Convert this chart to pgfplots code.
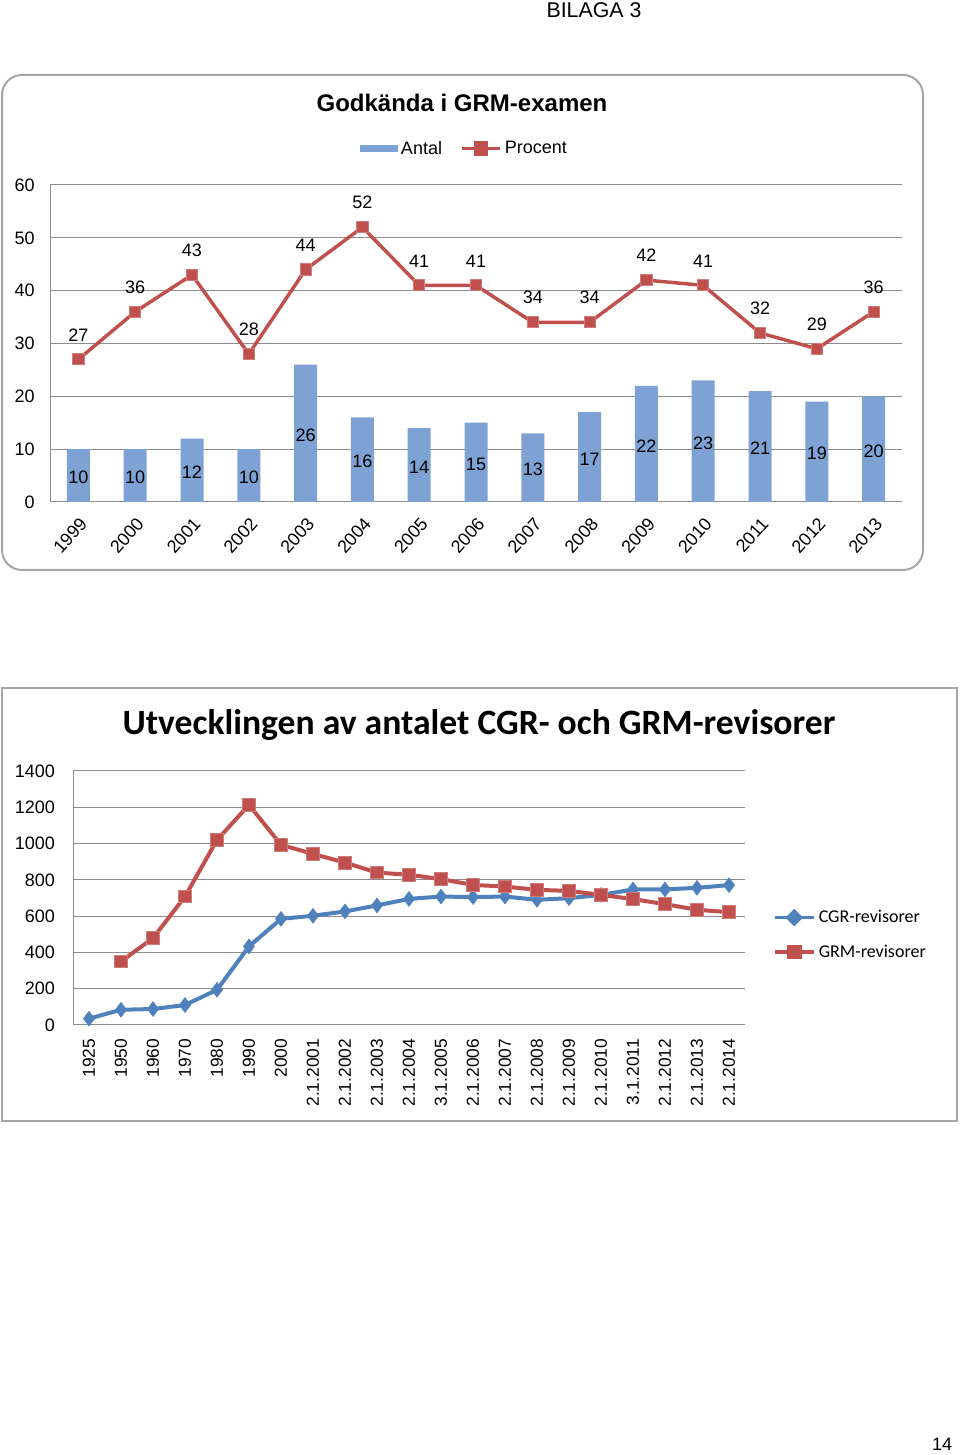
\documentclass[border=0pt]{standalone}
\usepackage{pgfplots}
\pgfplotsset{compat=1.18}
\usepackage{fontspec}
\setmainfont{Liberation Sans}
\newfontfamily\calibri{Carlito}
\definecolor{barblue}{HTML}{7EA2D3}
\definecolor{xlred}{HTML}{C0504D}
\definecolor{xlblue}{HTML}{4F81BD}
\definecolor{gridgray}{HTML}{8C8C8C}
\definecolor{framegray}{HTML}{A6A6A6}
\begin{document}
\begin{tikzpicture}[x=0.75pt,y=0.75pt]
\path[use as bounding box, fill=white] (0,0) rectangle (960,1455);
\node[font=\fontsize{16}{19}\selectfont] at (594,1445) {BILAGA 3};
\node[font=\fontsize{13.5}{16}\selectfont] at (942,11) {14};
\draw[framegray, line width=1.5pt, rounded corners=15pt] (2,1380) rectangle (923,885);
\node[font=\bfseries\fontsize{18}{21}\selectfont] at (462,1352) {Godkända i GRM-examen};

\begin{axis}[
  at={(37.5pt,714.75pt)}, anchor=south west,
  scale only axis, width=639pt, height=237.75pt,
  xmin=-0.5, xmax=14.5, ymin=0, ymax=60,
  axis lines*=left, axis line style={-, draw=gridgray, line width=0.75pt},
  ytick={0,10,...,60}, ymajorgrids, grid style={gridgray, line width=0.75pt},
  xtick={0,...,14},
  xticklabels={1999,2000,2001,2002,2003,2004,2005,2006,2007,2008,2009,2010,2011,2012,2013},
  major tick length=0pt, tick style={draw=none},
  x tick label style={rotate=48, anchor=north east, font=\fontsize{13.5}{16}\selectfont},
  xticklabel shift=6pt,
  y tick label style={font=\fontsize{13.5}{16}\selectfont},
  yticklabel shift=8pt,
  /pgf/number format/assume math mode=true,
  legend columns=2,
  legend style={at={(0.487,1.115)}, anchor=center, draw=none, fill=none,
    font=\fontsize{13.5}{16}\selectfont,
    /tikz/every even column/.append style={column sep=12pt}},
]
\addplot[ybar, bar width=17.25pt, fill=barblue, draw=none,
  legend image code/.code={\fill[barblue] (0cm,-0.09cm) rectangle (1.0cm,0.09cm);}]
  coordinates {(0,10) (1,10) (2,12) (3,10) (4,26) (5,16) (6,14) (7,15) (8,13) (9,17) (10,22) (11,23) (12,21) (13,19) (14,20)};
\addlegendentry{Antal}
\addplot[xlred, line width=2.6pt, mark=square*, mark size=4.2pt,
  mark options={fill=xlred, draw=xlred!75!white, line width=0.75pt},
  nodes near coords,
  every node near coord/.append style={font=\fontsize{13.5}{16}\selectfont, text=black, yshift=10pt},
  legend image code/.code={\draw[xlred, line width=2.6pt] (0cm,0cm) -- (1cm,0cm);
     \fill[xlred] (0.5cm,0cm) +(-4pt,-4pt) rectangle +(4pt,4pt);}]
  coordinates {(0,27) (1,36) (2,43) (3,28) (4,44) (5,52) (6,41) (7,41) (8,34) (9,34) (10,42) (11,41) (12,32) (13,29) (14,36)};
\addlegendentry{Procent}
\addplot[draw=none, no marks, forget plot, nodes near coords, point meta=explicit symbolic,
  nodes near coords align={center},
  every node near coord/.append style={anchor=center, font=\fontsize{13.5}{16}\selectfont, text=black, yshift=-1.5pt}]
  coordinates {(0,5) [10] (1,5) [10] (2,6) [12] (3,5) [10] (4,13) [26] (5,8) [16] (6,7) [14] (7,7.5) [15] (8,6.5) [13] (9,8.5) [17] (10,11) [22] (11,11.5) [23] (12,10.5) [21] (13,9.5) [19] (14,10) [20]};
\end{axis}

\draw[framegray, line width=1.2pt] (2,767) rectangle (957,334);
\node[font=\calibri\bfseries\fontsize{26.7}{31}\selectfont] at (479,730) {Utvecklingen av antalet CGR- och GRM-revisorer};

\begin{axis}[
  at={(54.75pt,322.5pt)}, anchor=south west,
  scale only axis, width=504pt, height=190.5pt,
  xmin=-0.5, xmax=20.5, ymin=0, ymax=1400,
  axis lines*=left, axis line style={-, draw=gridgray, line width=0.75pt},
  ytick={0,200,...,1400}, ymajorgrids, grid style={gridgray, line width=0.75pt},
  xtick={0,...,20},
  xticklabels={1925,1950,1960,1970,1980,1990,2000,2.1.2001,2.1.2002,2.1.2003,2.1.2004,3.1.2005,2.1.2006,2.1.2007,2.1.2008,2.1.2009,2.1.2010,3.1.2011,2.1.2012,2.1.2013,2.1.2014},
  major tick length=0pt, tick style={draw=none},
  x tick label style={rotate=90, anchor=east, font=\fontsize{13}{16}\selectfont},
  xticklabel shift=7pt,
  y tick label style={font=\fontsize{13.5}{16}\selectfont},
  yticklabel shift=10pt,
  /pgf/number format/assume math mode=true,
  /pgf/number format/1000 sep={},
  legend cell align=left,
  legend style={at={(1.035,0.355)}, anchor=west, draw=none, fill=none,
    font=\calibri\fontsize{13.5}{16}\selectfont, row sep=11pt},
]
\addplot[xlblue, line width=3pt, mark=diamond*, mark size=5.5pt,
  mark options={fill=xlblue, draw=xlblue, line width=0.5pt},
  legend image code/.code={\draw[xlblue, line width=2.6pt] (0cm,0cm) -- (1.05cm,0cm);
     \fill[xlblue] (0.52cm,0cm) +(-4.5pt,0pt) -- +(0pt,4.5pt) -- +(4.5pt,0pt) -- +(0pt,-4.5pt) -- cycle;}]
  coordinates {(0,35) (1,84) (2,88) (3,110) (4,194) (5,433) (6,585) (7,602) (8,626) (9,659) (10,695) (11,708) (12,705) (13,708) (14,690) (15,699) (16,717) (17,747) (18,747) (19,756) (20,771)};
\addlegendentry{CGR-revisorer}
\addplot[xlred, line width=3pt, mark=square*, mark size=4.8pt,
  mark options={fill=xlred, draw=xlred!75!white, line width=0.75pt},
  legend image code/.code={\draw[xlred, line width=2.6pt] (0cm,0cm) -- (1.05cm,0cm);
     \fill[xlred] (0.52cm,0cm) +(-4pt,-4pt) rectangle +(4pt,4pt);}]
  coordinates {(1,350) (2,479) (3,708) (4,1020) (5,1213) (6,993) (7,943) (8,895) (9,840) (10,828) (11,804) (12,772) (13,763) (14,745) (15,739) (16,717) (17,694) (18,666) (19,635) (20,622)};
\addlegendentry{GRM-revisorer}
\end{axis}
\end{tikzpicture}
\end{document}
